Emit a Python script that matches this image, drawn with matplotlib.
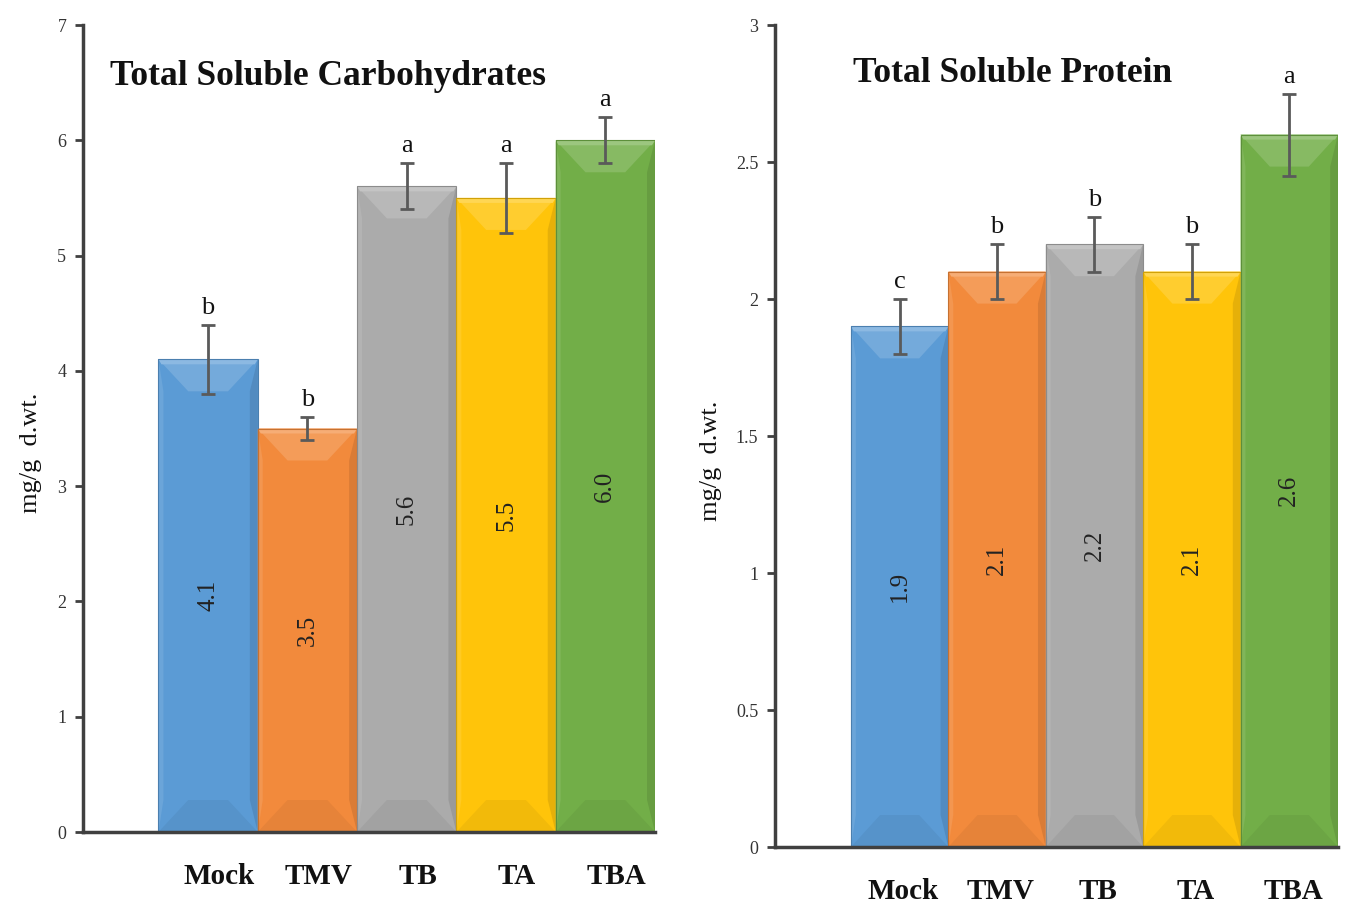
import matplotlib
matplotlib.use("Agg")
import matplotlib.pyplot as plt
from matplotlib.patches import Polygon
import numpy as np

plt.rcParams['font.family'] = ['Liberation Serif', 'DejaVu Serif']

categories = ["Mock", "TMV", "TB", "TA", "TBA"]
carb_values = [4.1, 3.5, 5.6, 5.5, 6.0]
carb_errors = [0.3, 0.1, 0.2, 0.3, 0.2]
carb_letters = ["b", "b", "a", "a", "a"]
prot_values = [1.9, 2.1, 2.2, 2.1, 2.6]
prot_errors = [0.1, 0.1, 0.1, 0.1, 0.15]
prot_letters = ["c", "b", "b", "b", "a"]
carb_yticks = [0, 1, 2, 3, 4, 5, 6, 7]
prot_yticks = [0, 0.5, 1, 1.5, 2, 2.5, 3]
prot_yticklabels = ["0", "0.5", "1", "1.5", "2", "2.5", "3"]

base_colors = ["#5B9BD5", "#F28A3C", "#ABABAB", "#FFC40A", "#72AE48"]


def shade(c, f):
    rgb = np.array(matplotlib.colors.to_rgb(c))
    if f > 0:
        rgb = rgb + (1 - rgb) * f
    else:
        rgb = rgb * (1 + f)
    return tuple(np.clip(rgb, 0, 1))


fig = plt.figure(figsize=(13.49, 9.05), dpi=100)
ax1 = fig.add_axes([83 / 1349, 73 / 905, 572 / 1349, 807 / 905])
ax2 = fig.add_axes([775 / 1349, 58 / 905, 563 / 1349, 822 / 905])


def draw(ax, values, errors, letters, ymax, yticks, yticklabels, title, title_xy,
         xlim_left, label_x, value_fmt, xlabel_shift):
    x = np.arange(len(categories))
    ax.set_xlim(xlim_left, 4.5)
    ax.set_ylim(0, ymax)
    ax_h_px = ax.get_position().height * fig.get_figheight() * fig.dpi
    px = ymax / ax_h_px  # data units per pixel
    bars = ax.bar(x, values, width=1.0, color=base_colors, edgecolor="none", zorder=2)
    for b, c in zip(bars, base_colors):
        x0 = b.get_x(); w = b.get_width(); x1 = x0 + w; top = b.get_height()
        by = 32 * px
        bx = 0.3 * w
        ax.add_patch(Polygon([(x0, 0), (x0 + 0.05 * w, by), (x0 + 0.05 * w, top - by), (x0, top)],
                             closed=True, color=shade(c, 0.10), lw=0, zorder=2.1))
        ax.add_patch(Polygon([(x1, 0), (x1 - 0.08 * w, by), (x1 - 0.08 * w, top - by), (x1, top)],
                             closed=True, color=shade(c, -0.10), lw=0, zorder=2.1))
        ax.add_patch(Polygon([(x0, top), (x1, top), (x1 - bx, top - by), (x0 + bx, top - by)],
                             closed=True, color=shade(c, 0.15), lw=0, zorder=2.2))
        ax.add_patch(Polygon([(x0, top), (x1, top), (x1 - 0.03 * w, top - 5 * px), (x0 + 0.03 * w, top - 5 * px)],
                             closed=True, color=shade(c, 0.30), lw=0, zorder=2.3))
        ax.add_patch(Polygon([(x0, 0), (x1, 0), (x1 - bx, by), (x0 + bx, by)],
                             closed=True, color=shade(c, -0.05), lw=0, zorder=2.2))
        ax.add_patch(Polygon([(x0, 0), (x0, top), (x1, top), (x1, 0)], closed=True, fill=False,
                             ec=shade(c, -0.18), lw=0.8, zorder=2.4))
    ax.errorbar(x, values, yerr=errors, fmt="none", ecolor="#5a5a5a", elinewidth=2,
                capsize=5, capthick=2, zorder=3)
    for xi, v, e, l in zip(x, values, errors, letters):
        ax.text(xi, v + e + 6 * px, l, ha="center", va="bottom", fontsize=19, color="#111111", zorder=4)
        ax.text(xi, v / 2, value_fmt.format(v), ha="center", va="center", rotation=90,
                fontsize=18, color="#222222", zorder=4)
    ax.set_yticks(yticks)
    ax.set_yticklabels(yticklabels, fontsize=13, color="#333333")
    ax.set_xticks(x + xlabel_shift)
    ax.set_xticklabels(categories, fontsize=21, fontweight="bold", color="#111111")
    ax.tick_params(axis="x", length=0, pad=22)
    ax.tick_params(axis="y", length=6, width=2, color="#404040", direction="out", pad=6)
    for s in ["top", "right"]:
        ax.spines[s].set_visible(False)
    for s in ["left", "bottom"]:
        ax.spines[s].set_linewidth(2.5)
        ax.spines[s].set_color("#404040")
    ax.set_ylabel("mg/g  d.wt.", fontsize=19, color="#111111")
    ax.yaxis.set_label_coords(label_x, 0.47)
    ax.text(title_xy[0], title_xy[1], title, transform=ax.transAxes, fontsize=25.5,
            fontweight="bold", ha="left", va="center", color="#111111")


draw(ax1, carb_values, carb_errors, carb_letters, 7, carb_yticks,
     [str(t) for t in carb_yticks], "Total Soluble Carbohydrates", (0.047, 0.936),
     -1.26, -0.072, "{:.1f}", 0.11)
draw(ax2, prot_values, prot_errors, prot_letters, 3, prot_yticks,
     prot_yticklabels, "Total Soluble Protein", (0.139, 0.941),
     -1.28, -0.094, "{:.1f}", 0.04)

fig.savefig("out.png", dpi=100)
